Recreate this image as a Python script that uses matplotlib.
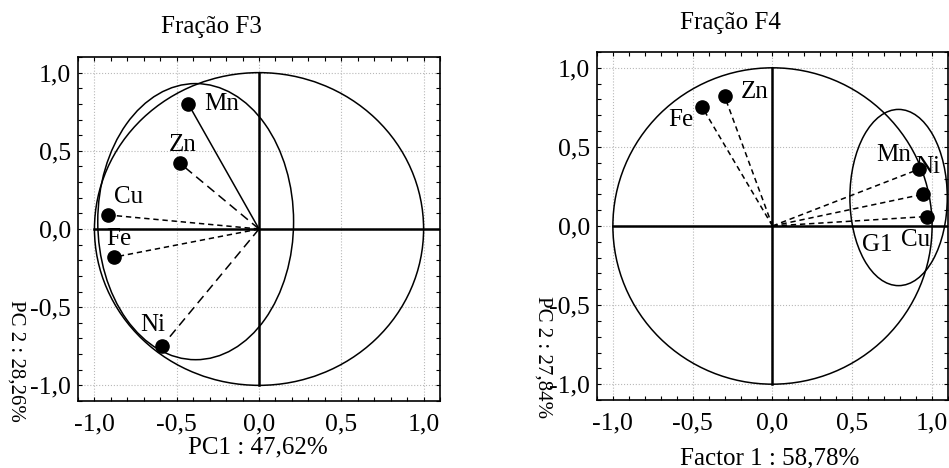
import matplotlib
matplotlib.use("Agg")
import matplotlib.pyplot as plt
import numpy as np
from matplotlib.patches import Ellipse, Circle
from matplotlib.ticker import MultipleLocator

# Fração F3 loadings
f3_elements = ["Mn", "Zn", "Cu", "Fe", "Ni"]
f3_pc1 = [-0.43, -0.48, -0.92, -0.88, -0.59]
f3_pc2 = [0.80, 0.42, 0.09, -0.18, -0.75]
f3_styles = ["solid", "long", "short", "short", "long"]
f3_label_off = [(16, 0, "left"), (3, 18, "center"), (21, 18, "center"), (5, 18, "center"), (-9, 21, "center")]

# Fração F4 loadings
f4_elements = ["Zn", "Fe", "Mn", "Ni", "Cu"]
f4_f1 = [-0.30, -0.44, 0.92, 0.94, 0.97]
f4_f2 = [0.82, 0.75, 0.36, 0.20, 0.06]
f4_label_off = [(16, 4, "left"), (-21, -13, "center"), (-26, 14, "center"), (5, 27, "center"), (-12, -23, "center")]

tick_vals = [-1.0, -0.5, 0.0, 0.5, 1.0]
tick_labels = ["-1,0", "-0,5", "0,0", "0,5", "1,0"]

DASHES = {"solid": "-", "long": (0, (6, 3.5)), "short": (0, (3.5, 2.5))}

plt.rcParams.update({
    "font.family": ["Liberation Serif", "DejaVu Serif"],
    "font.size": 18,
})


def setup_axes(ax):
    ax.set_xlim(-1.1, 1.1)
    ax.set_ylim(-1.1, 1.1)
    ax.set_xticks(tick_vals)
    ax.set_xticklabels(tick_labels)
    ax.set_yticks(tick_vals)
    ax.set_yticklabels(tick_labels)
    ax.xaxis.set_minor_locator(MultipleLocator(0.1))
    ax.yaxis.set_minor_locator(MultipleLocator(0.1))
    ax.tick_params(which="both", direction="in", top=True, right=True,
                   length=3, width=0.8, labelsize=18.5)
    ax.tick_params(axis="x", pad=9)
    ax.tick_params(axis="y", pad=5)
    ax.grid(True, which="major", color="#b8b8b8", linestyle=":", linewidth=0.8)
    ax.set_axisbelow(True)
    for sp in ax.spines.values():
        sp.set_linewidth(1.2)
    ax.plot([-1, 1.1], [0, 0], color="black", lw=1.8, zorder=2)
    ax.plot([0, 0], [-1, 1], color="black", lw=1.8, zorder=2)
    ax.add_patch(Circle((0, 0), 1.0, fill=False, color="black", lw=1.1, zorder=2))


fig = plt.figure(figsize=(9.49, 4.68), dpi=100)
ax1 = fig.add_axes([0.0822, 0.1432, 0.3815, 0.735])
ax2 = fig.add_axes([0.629, 0.1453, 0.370, 0.7436])

# left panel
setup_axes(ax1)
ax1.add_patch(Ellipse((-0.385, 0.047), 1.19, 1.766, fill=False, color="black", lw=1.1, zorder=2))
for name, x, y, st, (dx, dy, ha) in zip(f3_elements, f3_pc1, f3_pc2, f3_styles, f3_label_off):
    ax1.plot([0, x], [0, y], color="black", lw=1.1, linestyle=DASHES[st], zorder=3)
    ax1.plot(x, y, "o", color="black", ms=9.5, zorder=4)
    ax1.annotate(name, (x, y), xytext=(dx, dy), textcoords="offset pixels",
                 ha=ha, va="center", fontsize=18)

# right panel
setup_axes(ax2)
ax2.add_patch(Ellipse((0.79, 0.18), 0.61, 1.114, fill=False, color="black", lw=1.1, zorder=2))
for name, x, y, (dx, dy, ha) in zip(f4_elements, f4_f1, f4_f2, f4_label_off):
    ax2.plot([0, x], [0, y], color="black", lw=1.1, linestyle=DASHES["short"], zorder=3)
    ax2.plot(x, y, "o", color="black", ms=9.5, zorder=4)
    ax2.annotate(name, (x, y), xytext=(dx, dy), textcoords="offset pixels",
                 ha=ha, va="center", fontsize=18)
ax2.text(0.656, -0.12, "G1", ha="center", va="center", fontsize=18)

# titles and axis labels placed like the original
fig.text(211.7 / 949, 1 - 27 / 468, "Fração F3", ha="center", va="center", fontsize=18)
fig.text(730 / 949, 1 - 23 / 468, "Fração F4", ha="center", va="center", fontsize=18)
fig.text(258 / 949, 1 - 447 / 468, "PC1 : 47,62%", ha="center", va="center", fontsize=18)
fig.text(770 / 949, 1 - 458 / 468, "Factor 1 : 58,78%", ha="center", va="center", fontsize=18)
fig.text(16 / 949, 1 - 361 / 468, "PC 2 : 28,26%", ha="center", va="center", fontsize=15, rotation=270)
fig.text(543 / 949, 1 - 357 / 468, "PC 2 : 27,84%", ha="center", va="center", fontsize=15, rotation=270)

fig.savefig("out.png", dpi=100, facecolor="white")
